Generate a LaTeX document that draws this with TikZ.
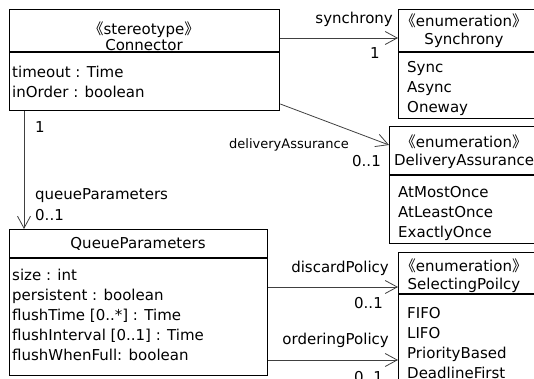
\documentclass[tikz,border=0pt]{standalone}
\usepackage{fontspec}
\setmainfont{DejaVu Sans}
\newfontfamily\cjk{Noto Sans CJK SC}
\usetikzlibrary{arrows.meta}

\newcommand{\stereo}[1]{{\cjk 《}#1{\cjk 》}}

\tikzset{
  umlbox/.style={draw, line width=1.3pt, anchor=north west, inner sep=0pt},
  divider/.style={line width=1.3pt},
  title/.style={align=center, inner sep=0pt, font=\fontsize{15}{18}\selectfont},
  attrs/.style={align=left, anchor=north west, inner sep=0pt},
  role/.style={inner sep=0pt},
  assoc/.style={draw=black!75, line width=0.8pt, -{Straight Barb[length=12pt,width=13pt]}}
}

\begin{document}
\begin{tikzpicture}[x=1pt,y=-1pt,font=\fontsize{15}{20}\selectfont]
  \useasboundingbox (0,0) rectangle (534,379);
  \clip (0,0) rectangle (534,379);

  % class boxes
  \node[umlbox, minimum width=270pt, minimum height=101pt] (conn) at (9,9) {};
  \node[umlbox, minimum width=160pt, minimum height=109pt] (sync) at (398,9) {};
  \node[umlbox, minimum width=170pt, minimum height=117pt] (deliv) at (389,126) {};
  \node[umlbox, minimum width=258pt, minimum height=146pt] (queue) at (9,229) {};
  \node[umlbox, minimum width=160pt, minimum height=160pt] (sel) at (398,252) {};

  % compartments
  \draw[divider] (conn.west |- 0,52) -- (conn.east |- 0,52);
  \draw[divider] (sync.west |- 0,52) -- (sync.east |- 0,52);
  \draw[divider] (deliv.west |- 0,175) -- (deliv.east |- 0,175);
  \draw[divider] (queue.west |- 0,258) -- (queue.east |- 0,258);
  \draw[divider] (sel.west |- 0,294) -- (sel.east |- 0,294);

  % names
  \node[title, font=\fontsize{15}{16}\selectfont] (connT) at (144,36) {\stereo{stereotype}\\Connector};
  \node[title] (syncT) at (464,31) {\stereo{enumeration}\\Synchrony};
  \node[title] (delivT) at (464,152) {\stereo{enumeration}\\DeliveryAssurance};
  \node[title] (queueT) at (138,244) {QueueParameters};
  \node[title] (selT) at (464,276) {\stereo{enumeration}\\SelectingPoilcy};

  % attributes and literals
  \node[attrs] (connA) at (12,66) {timeout : Time\\inOrder : boolean};
  \node[attrs] (syncA) at (407,61) {Sync\\Async\\Oneway};
  \node[attrs] (delivA) at (398,186) {AtMostOnce\\AtLeastOnce\\ExactlyOnce};
  \node[attrs] (queueA) at (12,269) {size : int\\persistent : boolean\\flushTime [0..*] : Time\\flushInterval [0..1] : Time\\flushWhenFull: boolean};
  \node[attrs] (selA) at (407,307) {FIFO\\LIFO\\PriorityBased\\DeadlineFirst};

  % associations
  \draw[assoc] (conn.east |- 0,38) -- (sync.west |- 0,38);
  \draw[assoc] (conn.east |- 0,104) -- (deliv.west |- 0,145);
  \draw[assoc] (conn.south -| 24,0) -- (queue.north -| 24,0);
  \draw[assoc] (queue.east |- 0,287) -- (sel.west |- 0,287);
  \draw[assoc] (queue.east |- 0,360) -- (sel.west |- 0,360);

  % role names and multiplicities
  \node[role, anchor=east] (lsyn) at (393,19) {synchrony};
  \node[role] (msyn) at (375,53) {1};
  \node[role, anchor=east, font=\fontsize{13}{15}\selectfont] (ldel) at (349,145) {deliveryAssurance};
  \node[role, anchor=east] (mdel) at (381,161) {0..1};
  \node[role, anchor=west] (mconn) at (35,127) {1};
  \node[role, anchor=west] (lque) at (35,196) {queueParameters};
  \node[role, anchor=west] (mque) at (35,215) {0..1};
  \node[role, anchor=east] (ldis) at (389,268) {discardPolicy};
  \node[role, anchor=east] (mdis) at (383,303) {0..1};
  \node[role, anchor=east] (lord) at (389,340) {orderingPolicy};
  \node[role, anchor=east] (mord) at (383,377) {0..1};
\end{tikzpicture}
\end{document}
